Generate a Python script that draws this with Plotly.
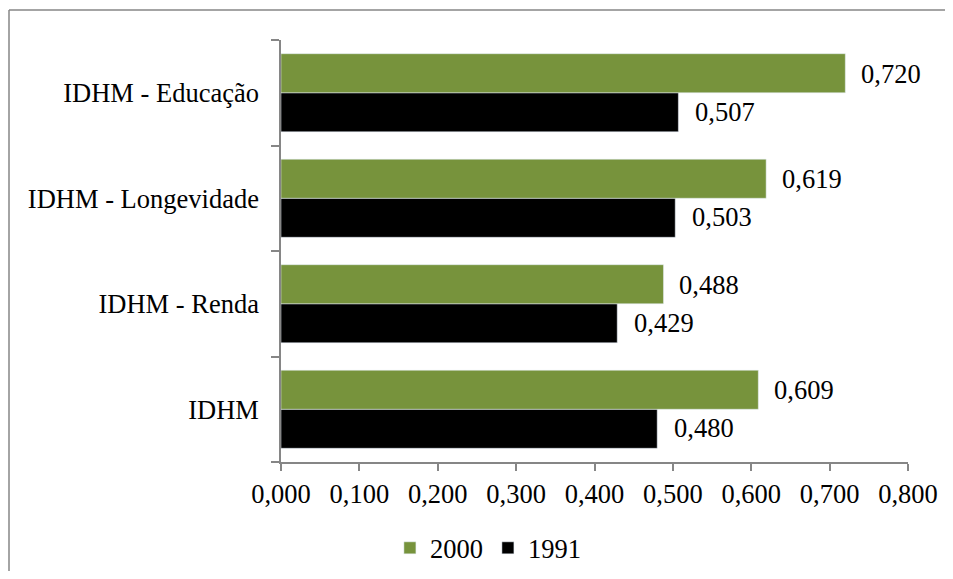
import plotly.graph_objects as go

categories = ["IDHM", "IDHM - Renda", "IDHM - Longevidade", "IDHM - Educação"]
values_2000 = [0.609, 0.488, 0.619, 0.720]
values_1991 = [0.480, 0.429, 0.503, 0.507]
x_ticks = [0.0, 0.1, 0.2, 0.3, 0.4, 0.5, 0.6, 0.7, 0.8]

GREEN = "#77933C"
BLACK = "#000000"
GRAY = "#868686"
FONT = "Liberation Serif"
FS = 26.5

fig = go.Figure()
fig.add_trace(go.Bar(name="1991", y=categories, x=values_1991, orientation="h",
                     marker=dict(color=BLACK), legendrank=2))
fig.add_trace(go.Bar(name="2000", y=categories, x=values_2000, orientation="h",
                     marker=dict(color=GREEN), legendrank=1))

annotations = []
for cat, v in zip(categories, values_2000):
    annotations.append(dict(x=v, y=cat, text=f"{v:.3f}".replace(".", ","), showarrow=False,
                            xanchor="left", yanchor="middle", xshift=14, yshift=19,
                            font=dict(family=FONT, size=FS, color="black")))
for cat, v in zip(categories, values_1991):
    annotations.append(dict(x=v, y=cat, text=f"{v:.3f}".replace(".", ","), showarrow=False,
                            xanchor="left", yanchor="middle", xshift=15, yshift=-19,
                            font=dict(family=FONT, size=FS, color="black")))

# figure sized to fit inside the page body's 8px margin (no scrollbars);
# plot area targeted at screen x 281..908, y 40..462
W, H = 937, 563
L, R, T, B = 273, 37, 32, 109
PW, PH = W - L - R, H - T - B
bx = (1 - L) / PW
by = (PH + T - 2) / PH
fig.update_layout(
    width=W, height=H,
    barmode="group", bargap=0.26, bargroupgap=0,
    separators=",.",
    plot_bgcolor="white", paper_bgcolor="white",
    margin=dict(l=L, r=R, t=T, b=B, autoexpand=False),
    font=dict(family=FONT, size=FS, color="black"),
    annotations=annotations,
    showlegend=True,
    legend=dict(orientation="h", x=0.33, xanchor="center", y=-0.204, yanchor="middle",
                font=dict(family=FONT, size=FS, color="black"), itemwidth=30),
    xaxis=dict(range=[0, 0.8], tickvals=x_ticks, tickformat=".3f", showgrid=False,
               showline=True, linecolor=GRAY, linewidth=1.5, ticks="outside",
               ticklen=7, tickcolor=GRAY, tickwidth=1.5, zeroline=False,
               automargin=False,
               tickfont=dict(family=FONT, size=FS, color="black")),
    yaxis=dict(categoryorder="array", categoryarray=categories, showgrid=False,
               showline=True, linecolor=GRAY, linewidth=1.5, ticks="outside",
               tickson="boundaries", ticklen=8, tickcolor=GRAY, tickwidth=1.5,
               ticklabelstandoff=15, automargin=False,
               tickfont=dict(family=FONT, size=FS, color="black")),
    shapes=[
        dict(type="line", xref="paper", yref="paper", x0=bx, x1=bx, y0=-B / PH, y1=by,
             line=dict(color=GRAY, width=1.5), layer="below"),
        dict(type="line", xref="paper", yref="paper", x0=bx, x1=(W - L) / PW, y0=by, y1=by,
             line=dict(color=GRAY, width=1.5), layer="below"),
    ],
)

fig.write_html("out.html")
